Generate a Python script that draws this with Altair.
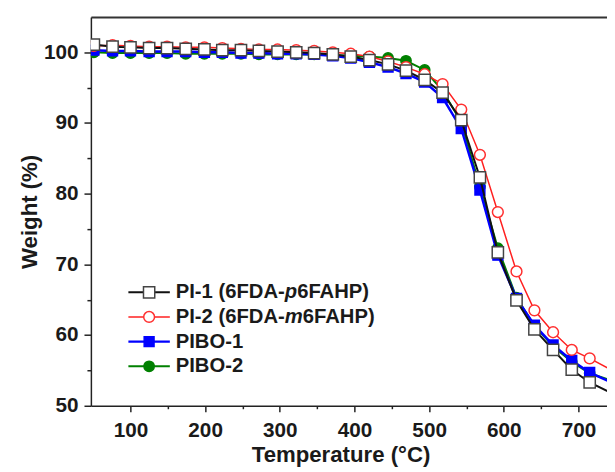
import altair as alt
import pandas as pd

# Temperature (°C) of the sampled points (last one is line-only, no marker)
temps = [51, 76, 100, 125, 149, 174, 199, 223, 248, 272, 297, 322, 346, 371, 395,
         420, 445, 469, 494, 518, 543, 568, 592, 617, 641, 666, 691, 715, 740]

# Weight (%) series
pi1 = [101.1, 100.8, 100.7, 100.6, 100.6, 100.5, 100.4, 100.3, 100.3, 100.2, 100.1, 100.0,
       99.9, 99.7, 99.4, 98.9, 98.3, 97.4, 96.1, 94.3, 90.4, 82.3, 71.7, 64.9, 60.8, 57.9,
       55.1, 53.3, 52.0]
pi2 = [100.9, 101.0, 100.9, 100.8, 100.8, 100.7, 100.7, 100.6, 100.5, 100.4, 100.4, 100.3,
       100.2, 100.0, 99.8, 99.4, 98.7, 97.9, 96.9, 95.5, 91.9, 85.5, 77.4, 69.0, 63.5, 60.4,
       57.9, 56.7, 55.3]
pibo1 = [100.3, 100.2, 100.2, 100.1, 100.1, 100.1, 100.0, 100.0, 99.9, 99.9, 99.8, 99.8,
         99.7, 99.5, 99.2, 98.6, 97.9, 97.0, 95.8, 93.6, 89.2, 80.5, 71.3, 65.2, 61.4, 58.6,
         56.4, 54.7, 53.5]
pibo2 = [100.0, 99.9, 99.9, 99.9, 99.9, 99.8, 99.8, 99.8, 99.8, 99.7, 99.7, 99.7,
         99.7, 99.6, 99.5, 99.4, 99.2, 98.8, 97.5, 94.6, 90.1, 81.0, 72.3, 65.3, 61.3, 58.4,
         56.2, 54.6, 53.7]

x_major = [100, 200, 300, 400, 500, 600, 700]
x_minor = [150, 250, 350, 450, 550, 650]
y_major = [50, 60, 70, 80, 90, 100]
y_minor = [55, 65, 75, 85, 95]

FONT = "Liberation Sans"
INK = "#1a1a1a"
LEG_FS = 20.5

# name, values, line color, line width, shape, size, fill, stroke
series = [
    ("PIBO-2", pibo2, "#008000", 2.0, "circle", 110, "#008000", "#008000"),
    ("PIBO-1", pibo1, "#0000ff", 2.5, "square", 100, "#0000ff", "#0000ff"),
    ("PI-2", pi2, "#ff2020", 1.5, "circle", 120, "white", "#ff3030"),
    ("PI-1", pi1, "#111111", 2.0, "square", 130, "white", "#444444"),
]

xs = alt.Scale(domain=[47, 738.2], nice=False, zero=False)
ys = alt.Scale(domain=[50, 105], nice=False, zero=False)

ax_x_major = alt.Axis(orient="bottom", values=x_major, tickSize=6, labelPadding=8,
                      title="Temperature (°C)", titleBaseline="alphabetic",
                      titleX=253, titleY=56, labelOverlap=False, labelFlush=False)
ax_x_minor = alt.Axis(orient="bottom", values=x_minor, tickSize=3, labels=False,
                      domain=False, title=None)
ax_x_top = alt.Axis(orient="top", ticks=False, labels=False, domain=True, title=None,
                    domainColor="#333333", domainWidth=2)
ax_y_major = alt.Axis(orient="left", values=y_major, tickSize=7, labelPadding=6,
                      title="Weight (%)", titleBaseline="alphabetic",
                      titleX=-55, titleY=197, labelOverlap=False, labelFlush=False)
ax_y_minor = alt.Axis(orient="left", values=y_minor, tickSize=4, labels=False,
                      domain=False, title=None)

axis_plan = [(ax_x_major, ax_y_major), (ax_x_minor, ax_y_minor), (ax_x_top, None)]

layers = []
j = 0
for name, vals, col, lw, shape, size, fill, stroke in series:
    df = pd.DataFrame({"T": temps, "W": vals, "S": name})
    for kind in ("line", "point"):
        xa, ya = axis_plan[j] if j < len(axis_plan) else (None, None)
        enc = dict(x=alt.X("T:Q", scale=xs, axis=xa),
                   y=alt.Y("W:Q", scale=ys, axis=ya))
        if kind == "line":
            ch = alt.Chart(df).mark_line(color=col, strokeWidth=lw, clip=True).encode(**enc)
        else:
            ch = (alt.Chart(df).transform_filter("datum.T < 730")
                  .mark_point(shape=shape, size=size, filled=True, fill=fill, stroke=stroke,
                              strokeWidth=1.5, opacity=1, clip=True)
                  .encode(**enc))
        layers.append(ch)
        j += 1

# ---- legend (inside plot, lower-left) ----
dummy = pd.DataFrame({"v": [0]})
w_pre = 5.389 * LEG_FS          # width of "PI-1 (6FDA-" in Arial-metric bold
legend_rows = [
    (series[3], [("PI-1 (6FDA-", "normal", 0), ("p", "italic", w_pre),
                 ("6FAHP)", "normal", w_pre + 0.611 * LEG_FS)]),
    (series[2], [("PI-2 (6FDA-", "normal", 0), ("m", "italic", w_pre),
                 ("6FAHP)", "normal", w_pre + 0.889 * LEG_FS)]),
    (series[1], [("PIBO-1", "normal", 0)]),
    (series[0], [("PIBO-2", "normal", 0)]),
]
row_y = [279, 304, 329, 354]
for (s, pieces), yy in zip(legend_rows, row_y):
    name, vals, col, lw, shape, size, fill, stroke = s
    layers.append(alt.Chart(dummy).mark_rule(color=col, strokeWidth=lw).encode(
        x=alt.value(38), x2=alt.value(80), y=alt.value(yy)))
    layers.append(alt.Chart(dummy).mark_point(shape=shape, size=size, filled=True, fill=fill,
                                              stroke=stroke, strokeWidth=1.5, opacity=1).encode(
        x=alt.value(59), y=alt.value(yy)))
    for txt, style, off in pieces:
        layers.append(alt.Chart(dummy).mark_text(
            text=txt, font=FONT, fontSize=LEG_FS, fontWeight="bold", fontStyle=style,
            align="left", baseline="middle", color=INK).encode(
            x=alt.value(86 + off), y=alt.value(yy)))

chart = (alt.layer(*layers)
         .resolve_axis(x="independent", y="independent")
         .properties(width=523, height=394,
                     padding={"left": 84, "top": 6, "right": 0, "bottom": 62},
                     autosize=alt.AutoSizeParams(type="none"))
         .configure_view(stroke=None)
         .configure_axis(labelFont=FONT, labelFontSize=21, labelFontWeight="bold",
                         labelColor=INK, titleFont=FONT, titleFontSize=22.5,
                         titleFontWeight="bold", titleColor=INK, domainColor="#222222",
                         domainWidth=1.5, tickColor="#222222", tickWidth=1.5, grid=False))

chart.save("out.html", embed_options={"renderer": "svg", "actions": False})
